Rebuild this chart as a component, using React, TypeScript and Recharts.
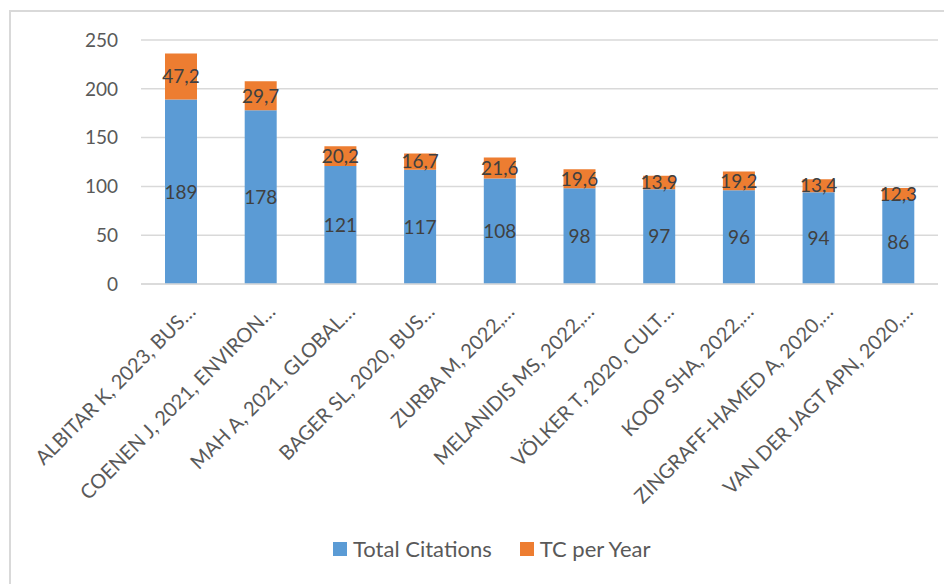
import { BarChart, Bar, XAxis, YAxis, CartesianGrid, LabelList } from "recharts";

const papers = [
  "ALBITAR K, 2023, BUS…",
  "COENEN J, 2021, ENVIRON…",
  "MAH A, 2021, GLOBAL…",
  "BAGER SL, 2020, BUS…",
  "ZURBA M, 2022,…",
  "MELANIDIS MS, 2022,…",
  "VÖLKER T, 2020, CULT…",
  "KOOP SHA, 2022,…",
  "ZINGRAFF-HAMED A, 2020,…",
  "VAN DER JAGT APN, 2020,…",
];
const totalCitations = [189, 178, 121, 117, 108, 98, 97, 96, 94, 86];
const tcPerYear = [47.2, 29.7, 20.2, 16.7, 21.6, 19.6, 13.9, 19.2, 13.4, 12.3];
const yTicks = [0, 50, 100, 150, 200, 250];

const BLUE = "#5b9bd5";
const ORANGE = "#ed7d31";
const FONT = "Lato, 'Open Sans', sans-serif";

const data = papers.map((name, i) => ({
  name,
  total: totalCitations[i],
  perYear: tcPerYear[i],
}));

const fmtComma = (v: number) => v.toFixed(1).replace(".", ",");

const RotatedTick = (props: any) => {
  const { x, y, payload } = props;
  return (
    <g transform={`translate(${x + 16},${y + 21})`}>
      <text transform="rotate(-45)" textAnchor="end" fill="#595959" fontSize={20} fontFamily={FONT}>
        {payload.value}
      </text>
    </g>
  );
};

const legendItems = [
  { label: "Total Citations", color: BLUE },
  { label: "TC per Year", color: ORANGE },
];

export default function App() {
  return (
    <div
      style={{
        position: "relative",
        marginLeft: 1,
        marginTop: 2,
        width: 943,
        height: 574,
        borderTop: "2px solid #d9d9d9",
        borderLeft: "2px solid #d9d9d9",
        boxSizing: "border-box",
        background: "#fff",
        fontFamily: FONT,
      }}
    >
      <BarChart width={941} height={572} data={data} margin={{ top: 28, right: 14, left: 0, bottom: 0 }}>
        <CartesianGrid vertical={false} stroke="#d9d9d9" strokeWidth={1.5} />
        <XAxis
          dataKey="name"
          height={300}
          interval={0}
          tick={<RotatedTick />}
          tickLine={false}
          axisLine={{ stroke: "#d9d9d9", strokeWidth: 1.5 }}
        />
        <YAxis
          width={130}
          domain={[0, 250]}
          ticks={yTicks}
          tickLine={false}
          axisLine={false}
          tickMargin={17}
          tick={{ fontSize: 19, fill: "#595959", fontFamily: FONT }}
        />
        <Bar dataKey="total" name="Total Citations" stackId="a" fill={BLUE} barSize={32} isAnimationActive={false}>
          <LabelList dataKey="total" position="center" fill="#404040" fontSize={19} fontFamily={FONT} />
        </Bar>
        <Bar dataKey="perYear" name="TC per Year" stackId="a" fill={ORANGE} barSize={32} isAnimationActive={false}>
          <LabelList
            dataKey="perYear"
            position="center"
            fill="#404040"
            fontSize={19}
            fontFamily={FONT}
            formatter={(v: any) => fmtComma(Number(v))}
          />
        </Bar>
      </BarChart>
      <div
        style={{
          position: "absolute",
          left: 322,
          top: 523,
          display: "flex",
          alignItems: "center",
          fontSize: 22,
          color: "#595959",
        }}
      >
        {legendItems.map((it, i) => (
          <div key={it.label} style={{ display: "flex", alignItems: "center", marginLeft: i === 0 ? 0 : 28 }}>
            <span style={{ display: "inline-block", width: 14, height: 14, background: it.color, marginRight: 6 }} />
            <span>{it.label}</span>
          </div>
        ))}
      </div>
    </div>
  );
}
